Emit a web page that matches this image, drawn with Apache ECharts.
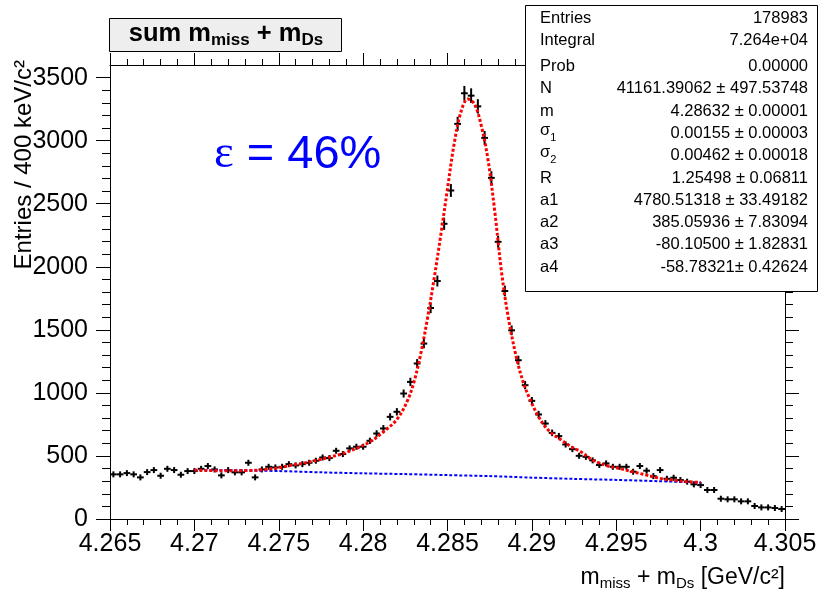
<!DOCTYPE html>
<html>
<head>
<meta charset="utf-8">
<script src="https://cdn.jsdelivr.net/npm/echarts@6/dist/echarts.min.js"></script>
<style>
  html, body { margin: 0; padding: 0; background: #ffffff; }
  #chart { width: 822px; height: 593px; }
</style>
</head>
<body>
<div id="chart"></div>
<script>
// Histogram of m_miss + m_Ds: 100 bins of 400 keV from 4.265 to 4.305 GeV
const binLow = 4.265;
const binWidth = 0.0004;
const counts = [
  354, 354, 364, 354, 330, 372, 388, 343, 398, 388,
  351, 380, 380, 398, 420, 393, 346, 388, 370, 370,
  446, 330, 393, 414, 409, 414, 435, 425, 435, 446,
  462, 488, 483, 541, 515, 560, 573, 573, 620, 678,
  718, 810, 850, 995, 1087, 1233, 1391, 1673, 1887, 2341,
  2605, 3133, 3376, 3357, 3272, 3022, 2705, 2198, 1808, 1496,
  1259, 1061, 937, 829, 757, 683, 657, 591, 554, 501,
  493, 465, 428, 441, 414, 414, 414, 375, 420, 383,
  340, 388, 319, 327, 309, 296, 275, 269, 230, 230,
  161, 156, 156, 140, 140, 103, 92, 92, 87, 79
];

// Total fit (signal + background), sampled along the curve
const fitX = [
  4.2700, 4.2716, 4.2732, 4.2742, 4.2750, 4.2758, 4.2766, 4.2773, 4.2781, 4.2787,
  4.2796, 4.2804, 4.2812, 4.2820, 4.2826, 4.2830, 4.2834, 4.2838, 4.2842, 4.2846,
  4.2850, 4.2854, 4.2858, 4.2862, 4.2866, 4.2870, 4.2874, 4.2878, 4.2882, 4.2886,
  4.2891, 4.2895, 4.2899, 4.2904, 4.2908, 4.2912, 4.2918, 4.2923, 4.2929, 4.2936,
  4.2944, 4.2952, 4.2960, 4.2968, 4.2976, 4.2984, 4.2992, 4.3000
];
const fitY = [
  388, 383, 384, 393, 406, 428, 446, 467, 493, 515,
  560, 612, 690, 790, 930, 1080, 1300, 1580, 1900, 2250,
  2620, 2980, 3230, 3330, 3290, 3120, 2850, 2440, 1960, 1600,
  1270, 1080, 945, 810, 730, 676, 622, 575, 533, 467,
  425, 400, 374, 348, 322, 308, 296, 290
];

// Background component of the fit
const bgX = [4.2700, 4.2725, 4.2750, 4.2775, 4.2800, 4.2825, 4.2850, 4.2875, 4.2900, 4.2925, 4.2950, 4.2975, 4.3000];
const bgY = [388, 386, 380, 370, 362, 356, 348, 340, 328, 318, 310, 300, 290];

// Fit statistics panel
const statNames = ['Entries', 'Integral', 'Prob', 'N', 'm', '{g|σ}{s|1}', '{g|σ}{s|2}', 'R', 'a1', 'a2', 'a3', 'a4'];
const statValues = [
  '178983', '7.264e+04', '0.00000', '41161.39062 ± 497.53748', '4.28632 ± 0.00001',
  '0.00155 ± 0.00003', '0.00462 ± 0.00018', '1.25498 ± 0.06811', '4780.51318 ± 33.49182',
  '385.05936 ± 7.83094', '-80.10500 ± 1.82831', '-58.78321± 0.42624'
];

const xMin = 4.265, xMax = 4.305, xStep = 0.005;
const yMin = 0, yMax = 3600, yStep = 500, yMinorStep = 100, yLabelTop = 3500;

const FONT = '"Liberation Sans", Arial, Helvetica, sans-serif';

const yMajor = [];
for (let v = yMin; v <= yLabelTop; v += yStep) yMajor.push(v);
const yMinor = [];
for (let v = yMin; v <= yLabelTop; v += yMinorStep) yMinor.push(v);

const points = counts.map((c, i) => [binLow + binWidth * (i + 0.5), c, Math.sqrt(c)]);

// Each bin: horizontal bar over the bin width, vertical bar of +/- sqrt(N)
function crossItem(params, api) {
  const x = api.value(0), y = api.value(1), e = api.value(2);
  const c = api.coord([x, y]);
  const l = api.coord([x - binWidth / 2, y]);
  const r = api.coord([x + binWidth / 2, y]);
  const t = api.coord([x, y + e]);
  const b = api.coord([x, y - e]);
  const st = { stroke: '#000000', lineWidth: 2 };
  return {
    type: 'group',
    children: [
      { type: 'line', shape: { x1: l[0], y1: c[1], x2: r[0], y2: c[1] }, style: st },
      { type: 'line', shape: { x1: c[0], y1: Math.min(t[1], c[1] - 3), x2: c[0], y2: Math.max(b[1], c[1] + 3) }, style: st }
    ]
  };
}

const axisLineStyle = { show: true, onZero: false, lineStyle: { color: '#000000', width: 1 } };

function xAxisDef(pos, showLabels) {
  return {
    type: 'value', position: pos, min: xMin, max: xMax, interval: xStep,
    axisLine: axisLineStyle,
    axisTick: { show: true, inside: false, length: 12, lineStyle: { color: '#000', width: 1 } },
    minorTick: { show: true, splitNumber: 5, length: 6, lineStyle: { color: '#000', width: 1 } },
    splitLine: { show: false }, minorSplitLine: { show: false },
    axisLabel: {
      show: showLabels, fontSize: 25, color: '#000', fontFamily: FONT, margin: 13,
      formatter: v => String(parseFloat(v.toFixed(3)))
    }
  };
}

function yAxisDef(pos, major, showLabels) {
  return {
    type: 'value', position: pos, offset: 0, min: yMin, max: yMax,
    interval: major ? yStep : yMinorStep,
    axisLine: major ? axisLineStyle : { show: false, onZero: false },
    axisTick: {
      show: true, inside: false, length: major ? 14 : 8,
      customValues: major ? yMajor : yMinor,
      lineStyle: { color: '#000', width: 1 }
    },
    splitLine: { show: false },
    axisLabel: {
      show: showLabels, fontSize: 25, color: '#000', fontFamily: FONT, margin: 22,
      customValues: yMajor,
      formatter: v => String(v)
    }
  };
}

const chart = echarts.init(document.getElementById('chart'), null, { renderer: 'canvas' });

const statChildren = [];
statNames.forEach((name, i) => {
  const y = i < 2 ? 18 + 22 * i : 66.5 + 22.3 * (i - 2);
  statChildren.push({
    type: 'text', x: 540, y: y, z: 101,
    style: {
      text: name, fill: '#000', font: '16.5px ' + FONT, verticalAlign: 'middle', align: 'left',
      rich: {
        g: { fontSize: 16.5, fontFamily: FONT, padding: [0, 0, 6, 0] },
        s: { fontSize: 11, fontFamily: FONT, padding: [9, 0, 0, 0] }
      }
    }
  });
  statChildren.push({
    type: 'text', x: 808, y: y, z: 101,
    style: { text: statValues[i], fill: '#000', font: '16.5px ' + FONT, verticalAlign: 'middle', align: 'right' }
  });
});

chart.setOption({
  animation: false,
  backgroundColor: '#ffffff',
  grid: { left: 110, right: 37, top: 65, bottom: 74, containLabel: false, outerBoundsMode: 'none' },
  xAxis: [xAxisDef('bottom', true), xAxisDef('top', false)],
  yAxis: [
    yAxisDef('left', true, true),
    yAxisDef('left', false, false),
    yAxisDef('right', true, false),
    yAxisDef('right', false, false)
  ],
  series: [
    {
      type: 'custom', name: 'data', xAxisIndex: 0, yAxisIndex: 0,
      renderItem: crossItem, data: points, encode: { x: 0, y: 1 }, z: 2, clip: false
    },
    {
      type: 'line', name: 'fit', xAxisIndex: 0, yAxisIndex: 0,
      data: fitX.map((x, i) => [x, fitY[i]]), smooth: 0.35, showSymbol: false, symbol: 'none',
      lineStyle: { color: '#ff0000', width: 3, type: [3, 2] }, z: 4
    },
    {
      type: 'line', name: 'background', xAxisIndex: 0, yAxisIndex: 0,
      data: bgX.map((x, i) => [x, bgY[i]]), smooth: 0.3, showSymbol: false, symbol: 'none',
      lineStyle: { color: '#0000ff', width: 2, type: [3, 2] }, z: 3
    }
  ],
  graphic: [
    // histogram title box
    {
      type: 'rect', z: 100, shape: { x: 109.5, y: 18.5, width: 232, height: 33 },
      style: { fill: '#eeeeee', stroke: '#000000', lineWidth: 1 }
    },
    {
      type: 'text', z: 101, x: 226, y: 34,
      style: {
        text: '{a|sum m}{b|miss}{a| + m}{b|Ds}', align: 'center', verticalAlign: 'middle',
        rich: {
          a: { fontSize: 25.5, fontWeight: 'bold', fontFamily: FONT, fill: '#000' },
          b: { fontSize: 17, fontWeight: 'bold', fontFamily: FONT, fill: '#000', padding: [13, 0, 0, 0] }
        }
      }
    },
    // fit statistics
    {
      type: 'rect', z: 100, shape: { x: 525.5, y: 5.5, width: 292, height: 286 },
      style: { fill: '#ffffff', stroke: '#000000', lineWidth: 1 }
    },
    { type: 'group', z: 101, children: statChildren },
    // efficiency label
    {
      type: 'text', z: 101, x: 214, y: 155,
      style: {
        text: '{e|ε}{t| = 46%}', verticalAlign: 'middle', align: 'left',
        rich: {
          e: { fontSize: 47, fontFamily: '"Liberation Serif", "DejaVu Serif", serif', fill: '#0000ff' },
          t: { fontSize: 47, fontFamily: FONT, fill: '#0000ff' }
        }
      }
    },
    // axis titles
    {
      type: 'text', z: 101, x: 24, y: 60, rotation: Math.PI / 2,
      style: { text: 'Entries / 400 keV/c²', font: '24px ' + FONT, fill: '#000', align: 'right', verticalAlign: 'middle' }
    },
    {
      type: 'text', z: 101, x: 785, y: 578,
      style: {
        text: '{a|m}{b|miss}{a| + m}{b|Ds}{a| [GeV/c²]}', align: 'right', verticalAlign: 'middle',
        rich: {
          a: { fontSize: 23, fontFamily: FONT, fill: '#000' },
          b: { fontSize: 15, fontFamily: FONT, fill: '#000', padding: [11, 0, 0, 0] }
        }
      }
    }
  ]
});
</script>
</body>
</html>
